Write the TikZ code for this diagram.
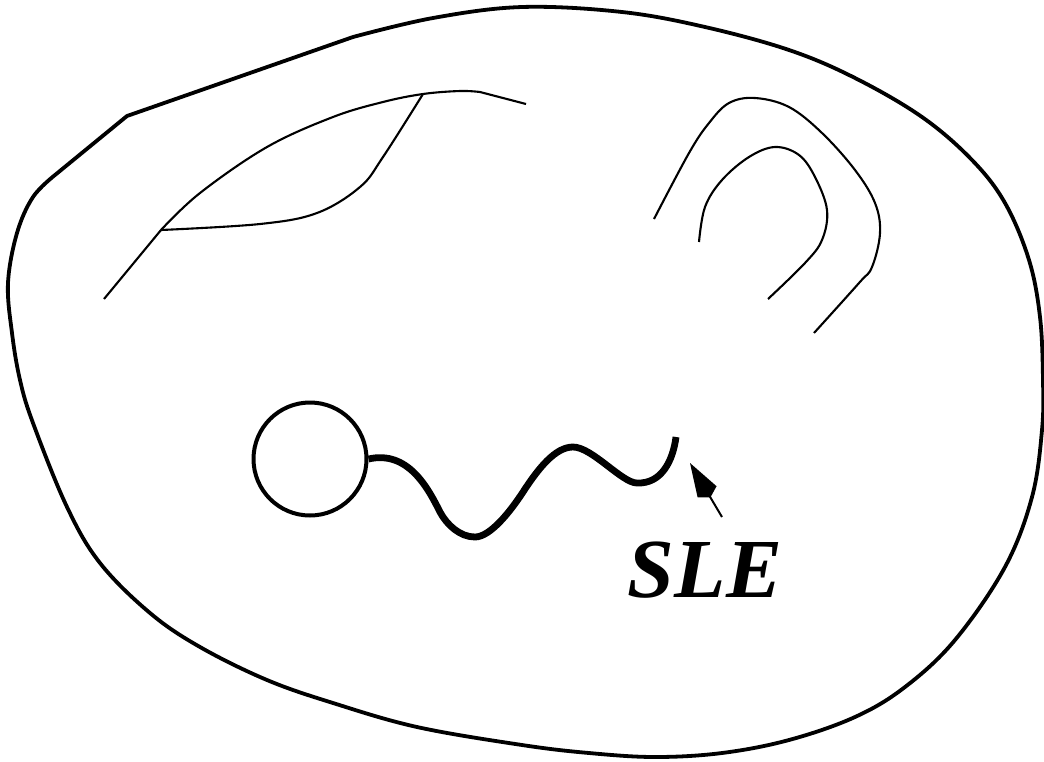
\documentclass[tikz,border=0pt]{standalone}
\usepackage{fontspec}
\setmainfont{Liberation Serif}
\usetikzlibrary{arrows.meta}
\tikzset{
  outer/.style={line width=3.8pt, line join=round},
  thinline/.style={line width=2.1pt},
  slecurve/.style={line width=6.8pt, line cap=butt},
  ringnode/.style={circle, draw, line width=4pt, minimum size=113pt, inner sep=0pt},
  pointer/.style={line width=2pt, -{Kite[length=40pt, width=22pt, inset=6.5pt]}},
  label/.style={font=\fontsize{84}{84}\selectfont\bfseries\itshape, inner sep=0pt}
}
\begin{document}
\begin{tikzpicture}[x=1pt, y=-1pt]
\useasboundingbox (0,0) rectangle (1044,761);
% outer domain
\draw[outer] (127,116) -- (353,37)
  -- plot[smooth, tension=0.6] coordinates {(353,37) (433,18) (522,7) (622,12) (705,27) (789,50) (855,78) (922,117) (972,160) (1005,203) (1029,260) (1040,317) (1043,380) (1042,430) (1032,497) (1005,567) (955,640) (905,687) (855,717) (789,740) (722,753) (655,757) (589,753) (522,745) (417,727) (333,703) (267,680) (200,647) (150,613) (100,563) (67,507) (33,423) (20,380) (12,333) (8,283) (17,233) (33,197) (55,175)}
  -- cycle;
% left loop figure
\coordinate (j1) at (161,230);
\coordinate (j2) at (423,94);
\coordinate (la) at (104,299);
\coordinate (lb) at (526,104);
\draw[thinline] (la) -- plot[smooth, tension=0.6] coordinates {(j1) (200,193) (267,147) (333,117) (383,102) (j2) (460,91) (480,92)} -- (lb);
\draw[thinline] (j1) -- plot[smooth, tension=0.6] coordinates {(j1) (260,224) (317,213) (360,187) (383,157) (j2)};
% right arcs
\draw[thinline] plot[smooth, tension=0.6] coordinates {(654,219) (689,153) (709,123) (729,103) (755,98) (789,107) (822,133) (855,170) (875,203) (880,233) (872,267) (859,283) (814,333)};
\draw[thinline] plot[smooth, tension=0.6] coordinates {(699,242) (705,207) (722,180) (749,157) (775,147) (799,155) (815,177) (827,210) (822,240) (805,263) (768,299)};
% circle and SLE curve
\node[ringnode] (c) at (310,459) {};
\coordinate (send) at (676,437);
\draw[slecurve] (c.east) .. controls (408,450) and (428,488) .. (440,512)
  .. controls (447,525) and (460,537) .. (475,537)
  .. controls (490,537) and (510,512) .. (523,492)
  .. controls (538,469) and (555,447) .. (573,447)
  .. controls (592,447) and (622,483) .. (637,483)
  .. controls (662,484) and (673,460) .. (send);
% label and arrow
\node[label] (sle) at (705,570) {SLE};
\coordinate (tail) at (722,517);
\coordinate (tip) at (690,463);
\draw[pointer] (tail) -- (tip);
\end{tikzpicture}
\end{document}
